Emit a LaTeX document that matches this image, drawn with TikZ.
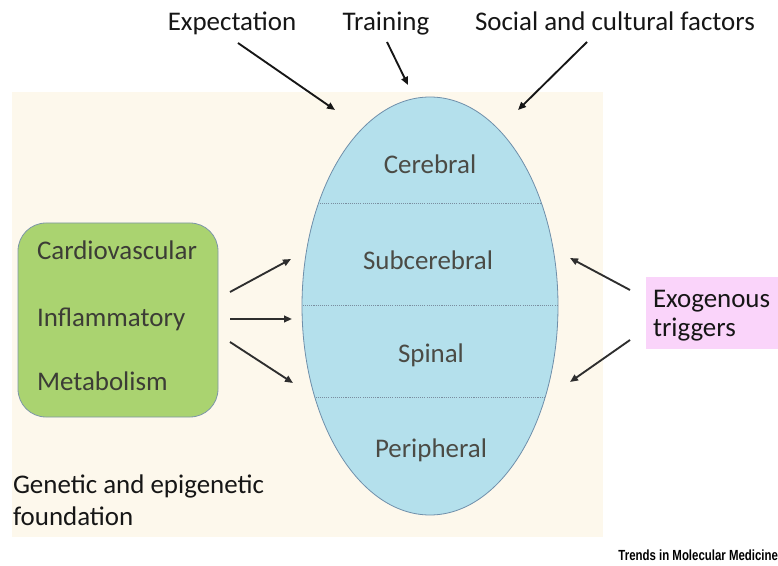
\documentclass[tikz,border=0pt]{standalone}
\usepackage{fontspec}
\setmainfont{Carlito}
\newfontfamily\creditfont{Liberation Sans}
\usetikzlibrary{shapes.geometric,arrows.meta}

\definecolor{sand}{HTML}{FDF8EC}
\definecolor{skyfill}{HTML}{B4E0EC}
\definecolor{skyline}{HTML}{6F8FAA}
\definecolor{leaf}{HTML}{AAD370}
\definecolor{leafline}{HTML}{7E97A8}
\definecolor{blush}{HTML}{FAD4FA}
\definecolor{ink}{HTML}{161616}
\definecolor{layertext}{HTML}{4B4B45}
\definecolor{boxtext}{HTML}{3C3C36}
\definecolor{arrowink}{HTML}{2E2E2E}
\definecolor{dividerblue}{HTML}{7A8EA0}

\begin{document}
\begin{tikzpicture}[x=0.75pt,y=-0.75pt,
  every node/.style={font=\fontsize{20.2}{24}\selectfont,inner sep=0pt,outer sep=0pt},
  layer/.style={text=layertext,anchor=base},
  factor/.style={text=ink,anchor=base},
  sysline/.style={text=boxtext,anchor=base west},
  push/.style={draw=arrowink,line width=1.4pt,-{Triangle[length=6pt,width=5pt]}},
  divider/.style={draw=dividerblue,line width=0.5pt,dash pattern=on 0.8pt off 0.8pt},
]
\useasboundingbox (0,0) rectangle (778,566);
\fill[white] (0,0) rectangle (778,566);

% genetic / epigenetic background field
\fill[sand] (12,92) rectangle (603,537);

% the layered body
\node[ellipse,draw=skyline,fill=skyfill,line width=0.6pt,
      minimum width=192pt,minimum height=313.5pt] (body) at (430,306) {};
\begin{scope}
  \clip (430,306) ellipse [x radius=128, y radius=209];
  \draw[divider] (290,203) -- (570,203);
  \draw[divider] (290,305) -- (570,305);
  \draw[divider] (290,397) -- (570,397);
\end{scope}
\node[layer] (cerebral)    at (430,174) {Cerebral};
\node[layer] (subcerebral) at (428,270) {Subcerebral};
\node[layer] (spinal)      at (431,363) {Spinal};
\node[layer] (peripheral)  at (431,457) {Peripheral};

% physiological systems
\node[draw=leafline,fill=leaf,line width=0.6pt,rounded corners=21pt,
      minimum width=150pt,minimum height=145.5pt] (systems) at (118,320) {};
\node[sysline] (cardio)  at (37,260) {Cardiovascular};
\node[sysline] (inflam)  at (37,327) {Inflammatory};
\node[sysline] (metab)   at (37,391) {Metabolism};

% exogenous triggers
\node[fill=blush,minimum width=100pt,minimum height=54pt,anchor=north west] (trigbox) at (646,277) {};
\node[anchor=base west,text=ink,align=left,font=\fontsize{20.2}{22}\selectfont]
  (triggers) at (653,337) {Exogenous\\triggers};

% top influences
\node[factor] (expect) at (232,31) {Expectation};
\node[factor] (train)  at (386,31) {Training};
\node[factor] (social) at (615,31) {Social and cultural factors};

% foundation label
\node[anchor=base west,text=ink,align=left,font=\fontsize{20.2}{24}\selectfont]
  (genetic) at (13,525) {Genetic and epigenetic\\foundation};

% credit line
\node[anchor=base east,text=black] (credit) at (778,560)
  {\scalebox{0.78}[1]{\creditfont\bfseries\fontsize{11}{11}\selectfont Trends in Molecular Medicine}};

% arrow end points
\coordinate (expS)   at (238,43);  \coordinate (expE)   at (335,110);
\coordinate (trainS) at (387,42);  \coordinate (trainE) at (408,85);
\coordinate (socS)   at (587,42);  \coordinate (socE)   at (518,110);
\coordinate (g1S) at (230,292); \coordinate (g1E) at (291,259);
\coordinate (g2S) at (230,319); \coordinate (g2E) at (292,319);
\coordinate (g3S) at (230,342); \coordinate (g3E) at (293,383);
\coordinate (x1S) at (630,290); \coordinate (x1E) at (570,258);
\coordinate (x2S) at (630,340); \coordinate (x2E) at (570,382);

\draw[push,draw=ink] (expS) -- (expE);
\draw[push,draw=ink] (trainS) -- (trainE);
\draw[push,draw=ink] (socS) -- (socE);
\draw[push] (g1S) -- (g1E);
\draw[push] (g2S) -- (g2E);
\draw[push] (g3S) -- (g3E);
\draw[push] (x1S) -- (x1E);
\draw[push] (x2S) -- (x2E);
\end{tikzpicture}
\end{document}
